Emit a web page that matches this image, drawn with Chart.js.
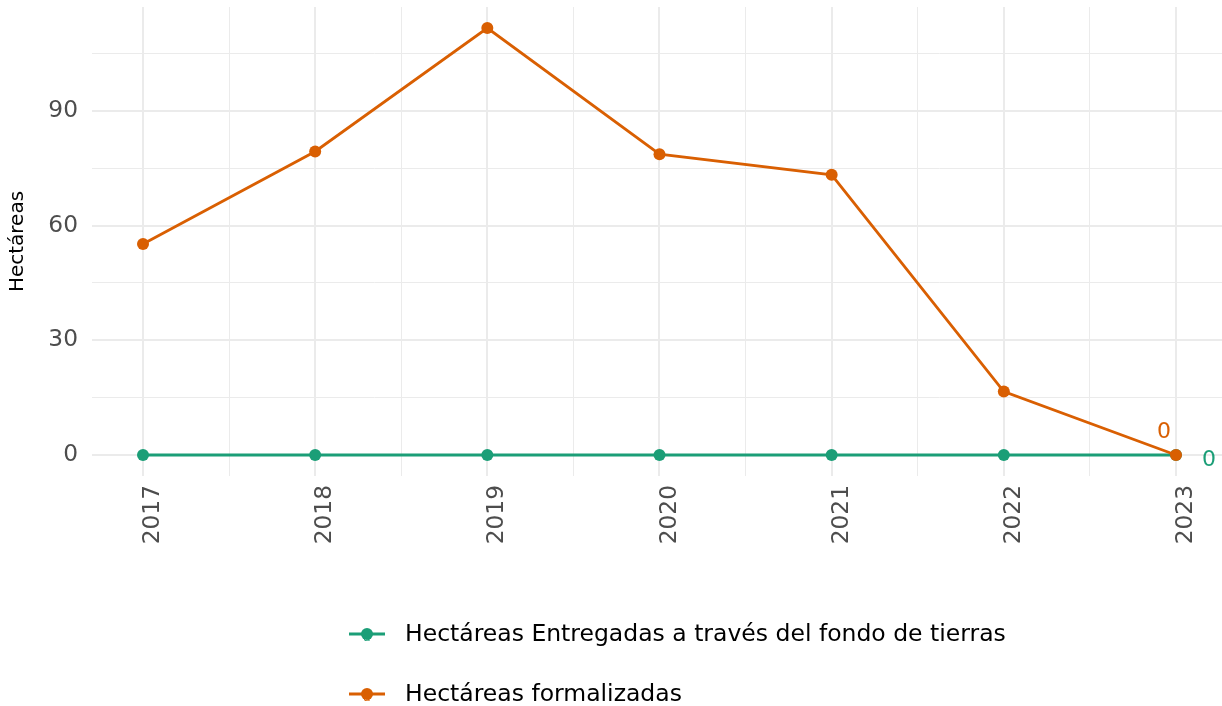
<!DOCTYPE html>
<html>
<head>
<meta charset="utf-8">
<script src="https://cdn.jsdelivr.net/npm/chart.js@4"></script>
<style>
  html, body { margin: 0; padding: 0; background: #ffffff; }
  #wrap { width: 1222px; height: 706px; position: relative; }
</style>
</head>
<body>
<div id="wrap"><canvas id="c" width="1222" height="706"></canvas></div>
<script>
const years = [2017, 2018, 2019, 2020, 2021, 2022, 2023];
const entregadas = [0, 0, 0, 0, 0, 0, 0];
const formalizadas = [55.2, 79.4, 111.7, 78.7, 73.3, 16.6, 0];
const seriesNames = ["Hectáreas Entregadas a través del fondo de tierras", "Hectáreas formalizadas"];
const seriesColors = ["#1b9e77", "#d95f02"];
const yTicks = [0, 15, 30, 45, 60, 75, 90, 105];
const yLabelTicks = [0, 30, 60, 90];
const xTicks = [2017, 2017.5, 2018, 2018.5, 2019, 2019.5, 2020, 2020.5, 2021, 2021.5, 2022, 2022.5, 2023];
const yTitle = "Hectáreas";
const endLabels = ["0", "0"];

const FONT = "'DejaVu Sans', Verdana, sans-serif";

const endLabelPlugin = {
  id: 'endLabels',
  afterDatasetsDraw(chart) {
    const ctx = chart.ctx;
    ctx.save();
    ctx.font = "22px " + FONT;
    ctx.textAlign = 'center';
    ctx.textBaseline = 'middle';
    const offs = [[33, 5], [-12, -23]];
    chart.data.datasets.forEach((ds, i) => {
      const meta = chart.getDatasetMeta(i);
      const pt = meta.data[meta.data.length - 1];
      ctx.fillStyle = ds.borderColor;
      ctx.fillText(endLabels[i], pt.x + offs[i][0], pt.y + offs[i][1]);
    });
    ctx.restore();
  }
};

const legendPlugin = {
  id: 'customLegend',
  afterDraw(chart) {
    const ctx = chart.ctx;
    ctx.save();
    const rows = [634, 694];
    chart.data.datasets.forEach((ds, i) => {
      const y = rows[i];
      ctx.strokeStyle = ds.borderColor;
      ctx.lineWidth = 2.8;
      ctx.beginPath();
      ctx.moveTo(349, y);
      ctx.lineTo(385, y);
      ctx.stroke();
      ctx.fillStyle = ds.borderColor;
      ctx.font = "12px " + FONT;
      ctx.textAlign = 'center';
      ctx.textBaseline = 'middle';
      ctx.fillText('a', 367, y + 4);
      ctx.beginPath();
      ctx.arc(367, y, 6, 0, Math.PI * 2);
      ctx.fill();
      ctx.fillStyle = '#000000';
      ctx.font = "23.5px " + FONT;
      ctx.textAlign = 'left';
      ctx.fillText(ds.label, 405, y + 1);
    });
    ctx.restore();
  }
};

const gridColor = '#ebebeb';

new Chart(document.getElementById('c'), {
  type: 'line',
  data: {
    datasets: [
      {
        label: seriesNames[0],
        data: years.map((y, i) => ({ x: y, y: entregadas[i] })),
        borderColor: seriesColors[0],
        backgroundColor: seriesColors[0],
        borderWidth: 2.8,
        pointRadius: 6,
        pointHoverRadius: 6,
        pointBorderWidth: 0,
        clip: false,
        order: 2
      },
      {
        label: seriesNames[1],
        data: years.map((y, i) => ({ x: y, y: formalizadas[i] })),
        borderColor: seriesColors[1],
        backgroundColor: seriesColors[1],
        borderWidth: 2.8,
        pointRadius: 6,
        pointHoverRadius: 6,
        pointBorderWidth: 0,
        clip: false,
        order: 1
      }
    ]
  },
  options: {
    responsive: false,
    animation: false,
    layout: { autoPadding: false, padding: { top: 7, right: 0, left: 0, bottom: 0 } },
    plugins: {
      legend: { display: false },
      tooltip: { enabled: false },
      title: { display: false }
    },
    scales: {
      x: {
        type: 'linear',
        min: 2016.7038,
        max: 2023.2672,
        afterBuildTicks(scale) { scale.ticks = xTicks.map(v => ({ value: v })); },
        afterFit(scale) {
          scale.height = 230;
          scale.paddingLeft = 0; scale.paddingRight = 0;
          scale.paddingTop = 0; scale.paddingBottom = 0;
        },
        border: { display: false },
        grid: {
          drawTicks: false,
          color: gridColor,
          lineWidth: ctx => (ctx.tick && Number.isInteger(ctx.tick.value)) ? 2 : 1
        },
        ticks: {
          autoSkip: false,
          minRotation: 90,
          maxRotation: 90,
          padding: 9,
          labelOffset: 10,
          color: '#4d4d4d',
          font: { family: FONT, size: 23.3 },
          callback: v => Number.isInteger(v) ? String(v) : ''
        }
      },
      y: {
        type: 'linear',
        min: -5.5,
        max: 117.2,
        afterBuildTicks(scale) { scale.ticks = yTicks.map(v => ({ value: v })); },
        afterFit(scale) {
          scale.width = 92;
          scale.paddingLeft = 0; scale.paddingRight = 0;
          scale.paddingTop = 0; scale.paddingBottom = 0;
        },
        border: { display: false },
        grid: {
          drawTicks: false,
          color: gridColor,
          lineWidth: ctx => (ctx.tick && yLabelTicks.includes(ctx.tick.value)) ? 2 : 1
        },
        title: {
          display: true,
          text: yTitle,
          color: '#000000',
          font: { family: FONT, size: 20 },
          padding: { top: 6, bottom: 0 }
        },
        ticks: {
          padding: 14,
          color: '#4d4d4d',
          font: { family: FONT, size: 23.3 },
          callback: v => yLabelTicks.includes(v) ? String(v) : ''
        }
      }
    }
  },
  plugins: [endLabelPlugin, legendPlugin]
});
</script>
</body>
</html>
